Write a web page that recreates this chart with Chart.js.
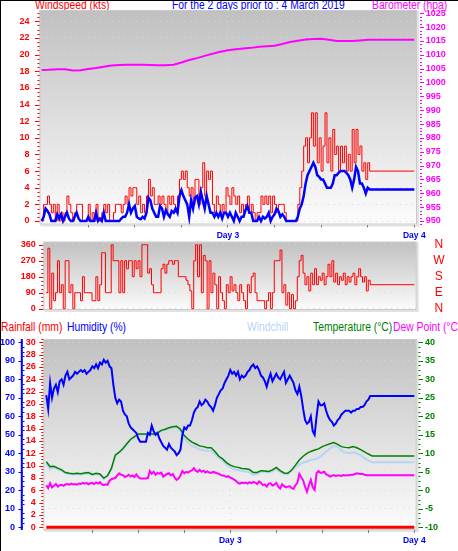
<!DOCTYPE html>
<html><head><meta charset="utf-8">
<script src="https://cdn.jsdelivr.net/npm/chart.js@4.4.0/dist/chart.umd.min.js"></script>
<style>
html,body{margin:0;padding:0;background:#fff;}
body{width:458px;height:551px;position:relative;overflow:hidden;}
#frame{position:absolute;left:0;top:0;width:458px;height:551px;border-left:1px solid #000;border-top:1px solid #000;box-sizing:border-box;pointer-events:none;z-index:5;}
.lbl{position:absolute;font-family:"Liberation Sans",Arial,sans-serif;font-size:12px;line-height:12px;white-space:nowrap;transform:scaleX(0.86);transform-origin:0 0;z-index:0;}
canvas{position:absolute;left:0;z-index:1;}
</style></head>
<body>
<div class="lbl" style="left:35px;top:-1.2px;color:#ff0000">Windspeed (kts)</div>
<div class="lbl" style="left:172px;top:-1.2px;color:#0000ff">For the 2 days prior to : 4 March 2019</div>
<div class="lbl" style="left:372px;top:-1.2px;color:#ff00ff">Barometer (hpa)</div>
<div class="lbl" style="left:1px;top:320.8px;color:#ff0000">Rainfall (mm)</div>
<div class="lbl" style="left:67px;top:320.8px;color:#0000ff">Humidity (%)</div>
<div class="lbl" style="left:247px;top:320.8px;color:#b8d4f4">Windchill</div>
<div class="lbl" style="left:313px;top:320.8px;color:#008000">Temperature (°C)</div>
<div class="lbl" style="left:393px;top:320.8px;color:#ff00ff">Dew Point (°C)</div>
<canvas id="c1" width="458" height="241" style="top:0px"></canvas>
<canvas id="c2" width="458" height="91" style="top:230px"></canvas>
<canvas id="c3" width="458" height="239" style="top:312px"></canvas>
<div id="frame"></div>
<script>
// ---------------- data ----------------
const LAST_HOUR = 48;
const FINE_STEP = 0.25;   // hours between samples
const HALF_STEP = 0.5;
const HOUR_STEP = 1;

const timeTicks = [6, 12, 18, 24, 30, 36, 42, 48];
const dayTickHours = [24, 48];
const dayTickLabels = ['Day 3', 'Day 4'];

const windTicks = [0, 2, 4, 6, 8, 10, 12, 14, 16, 18, 20, 22, 24];
const baroTicks = [950, 955, 960, 965, 970, 975, 980, 985, 990, 995, 1000, 1005, 1010, 1015, 1020, 1025];
const dirTicks = [0, 90, 180, 270, 360];
const dirLabels = ['N', 'E', 'S', 'W', 'N'];
const humTicks = [0, 10, 20, 30, 40, 50, 60, 70, 80, 90, 100];
const rainTicks = [0, 2, 4, 6, 8, 10, 12, 14, 16, 18, 20, 22, 24, 26, 28, 30];
const tempTicks = [-10, -5, 0, 5, 10, 15, 20, 25, 30, 35, 40];

const windGust = [
0,2,2,3, 2,1,2,0, 2,0,1,0, 1,3,2,1, 0,1,2,2, 2,0,0,0, 2,0,1,0, 2,0,0,1, 2,1,2,0, 0,1,2,2,
2,1,2,3, 2,4,3,4, 4,2,3,1, 2,1,3,5, 3,4,2,2, 3,2,3,2, 1,3,2,3, 2,1,3,5, 6,5,6,4, 3,4,2,5,
5,2,4,7, 3,6,5,6, 2,1,3,2, 1,2,1,4, 3,2,4,3, 2,3,1,2, 1,2,3,1, 2,1,0,1, 1,3,2,3, 2,3,1,3,
2,1,2,2, 2,1,0,0, 0,0,0,0, 2,4,6,9, 10,7,10,13, 9,13,7,10, 6,9,13,7, 10,6,11,8, 9,6,9,7, 9,6,8,6,
11,7,11,8, 9,6,7,5, 7,6, 6];

const windAvg = [
0,0.5,1.5,1.2, 0.8,0,0,0, 0.8,0.3,0.8,0, 0.5,1,0.3,0, 0,0.5,1,0.3, 0,0,0,0, 0.5,0,0,0, 1,0,0.3,0, 1,0,0,0, 0,0,0,0,
0,0.3,0.5,0.5, 1,2,1,1.5, 1.8,0.5,0.3,0.2, 0.5,0.3,1,2.8, 2.5,1.5,1,0.5, 0.5,1.8,1.5,0.5, 1.3,0.8,0.5,1.2, 1,1.5,1,3, 3.7,3,2.5,2, 0.5,2.5,1.5,2.8,
3,2,3.5,2.5, 1.5,3,2,1, 1,0.5,1,0.5, 1,0.3,1,1, 0.5,1,0.5,0, 1,0.5,0,0.5, 0.5,1.3,1.8,1, 1,0,0,0, 0.5,0,0.5,0.3, 0.5,1,0,0.5,
0.8,1.5,1.2,0.5, 0.8,0.5,0,0, 0,0,0,0, 0.5,1.5,2,3, 4.5,5.5,6,6.5, 7,6.5,5.5,5.3, 5,5,4.5,4, 4,4,4.5,5.5, 5.5,5.8,6,6, 6,5.8,5.5,5,
4,5,6.5,6, 4.5,4.5,4,3.3, 4,3.8, 3.8];

const barometer = [
1004.5, 1004.6, 1004.8, 1004.8, 1004.3, 1004.4, 1004.9, 1005.2, 1005.7, 1006.1, 1006.3, 1006.4, 1006.4, 1006.4,
1006.3, 1006.2, 1006.2, 1006.4, 1007.2, 1008.1, 1008.8, 1009.6, 1010.4, 1011.1, 1011.6, 1012.0, 1012.3, 1012.5,
1012.9, 1013.1, 1013.3, 1013.9, 1014.6, 1015.1, 1015.5, 1015.7, 1015.8, 1015.4, 1015.0, 1015.0, 1015.0, 1015.2,
1015.4, 1015.4];

const windDir = [
90,340,0,200, 45,90,270,90, 135,0,270,270, 90,135,0,90, 90,90,45,180, 90,90,90,90, 45,45,180,45, 135,315,315,90, 90,90,360,270, 270,270,90,270,
90,270,225,270, 270,180,270,225, 270,180,360,360, 360,200,225,135, 90,90,90,90, 225,250,200,250, 270,270,250,270, 270,180,180,180, 180,160,135,100, 0,270,360,180,
360,90,300,270, 0,270,90,200, 135,0,180,90, 45,0,135,90, 180,100,135,90, 45,135,90,45, 0,135,90,180, 200,90,45,45, 45,45,0,45, 90,0,90,270,
270,270,330,90, 135,20,90,0, 80,0,45,180, 270,300,200,135, 180,100,200,135, 225,135,180,160, 200,135,180,250, 180,270,150,200, 135,180,160,200, 135,180,150,180,
200,135,180,225, 180,150,180,100, 160,135, 135];

const humidity = [
71.5,64,78,70, 75,77,73,79, 80,77,82,84, 80,81,82,84, 83,84,85,84, 85,83,84,85, 87,86,88,86, 89,88,90.5,89, 90,87,86,77, 70,67,69,68,
63,61,60,56, 54,53,52,51, 48,46.3,46.3,46.3, 46.3,51,50,55, 52,50,51,48, 46,44,43,42, 45,43,42,41, 39,40,42,50, 54,53,55,55, 58,62,64,65,
68,66,67,69, 68,66,65,63, 66,70,72,74, 75,78,80,82, 85,83,84,82, 84,80,82,81, 82,84,85,87, 88,86,87,85, 82,81,79,76, 80,83,79,81,
83,81,80,82, 84,78,80,82, 80,78,74,72, 76,71,64,58, 56,57,60,52, 50,60,68,66, 66,67,63,60, 58,57,55,56, 58,59,61,62, 63,63,63,62,
63,63,64,64, 65,65,66,68, 69,71, 71];

const dewPoint = [
1.4,0.6,1.9,0.8, 1.2,1.7,1.0,1.4, 1.5,1.2,1.6,1.7, 1.5,1.8,1.6,1.7, 1.5,1.8,1.7,2.0, 1.8,2.0,1.6,1.9, 2.0,1.7,2.1,1.8, 2.2,1.6,1.4,1.6, 1.5,2.6,3.0,3.2, 3.3,4.0,4.6,4.2,
4.1,3.6,3.8,4.2, 3.7,4.0,3.6,4.3, 3.6,3.2,3.2,3.2, 3.2,3.3,5.2,4.5, 5.0,4.2,4.7,4.5, 4.8,3.7,4.1,4.4, 4.6,4.0,4.4,3.4, 2.8,3.2,4.0,5.2, 4.6,5.0,4.8,5.2, 5.4,6.0,5.2,5.0,
5.5,5.0,5.3,4.8, 5.1,4.8,4.7,5.0, 4.8,4.6,4.5,4.1, 4.0,3.9,3.6,3.8, 3.4,3.2,2.9,2.5, 2.0,1.8,2.1,1.9, 2.1,1.8,2.2,1.9, 2.3,2.1,1.7,2.4, 2.0,1.4,1.6,1.0, 1.8,1.9,1.3,1.5,
2.0,1.0,0.5,1.6, 1.2,0.8,1.0,1.1, 0.6,0.4,1.4,2.0, 4.4,3.5,2.7,1.0, -0.4,1.4,2.8,0.8, 0.1,4.6,5.2,4.7, 4.8,5.0,4.3,4.1, 3.7,3.9,4.1,3.9, 4.0,4.0,3.9,4.1, 4.0,4.1,4.1,4.2,
4.2,4.4,4.6,4.5, 4.4,4.4,4.2,4.1, 4.1,4.1, 4.1];

const temperature = [
7.7, 6.4, 6.5, 6.0, 5.5, 4.8, 4.6, 4.5, 4.6, 4.5, 4.7, 4.8, 4.3, 4.6, 4.4, 3.3, 4.0, 6.0,
9.5, 10.3, 11.3, 12.6, 13.8, 14.5, 15.2, 15.2, 15.2, 15.2, 15.2, 15.5, 16.2, 16.5, 16.9, 17.2, 17.3, 16.5,
14.8, 13.8, 13.0, 12.5, 12.0, 11.8, 11.5, 11.5, 10.5, 9.2, 8.5, 7.5, 6.8, 6.4, 6.2, 5.9, 5.8, 5.6,
4.8, 4.8, 5.3, 5.2, 5.1, 5.5, 6.2, 5.3, 4.7, 4.6, 5.5, 6.8, 8.2, 9.2, 10.0, 10.5, 10.9, 11.2,
11.8, 12.2, 12.6, 12.9, 12.4, 11.8, 11.6, 11.5, 11.8, 11.5, 11.0, 10.4, 9.8, 9.3, 9.3];

const windchill = [
7.2, 5.8, 6.2, 5.7, 5.3, 4.6, 4.4, 4.3, 4.4, 4.3, 4.5, 4.6, 4.1, 4.3, 4.2, 3.1, 3.8, 5.8,
9.3, 10.1, 11.1, 12.4, 13.6, 14.3, 15.0, 15.0, 15.0, 15.0, 15.0, 15.3, 16.0, 16.3, 16.7, 17.0, 17.1, 16.0,
14.0, 12.9, 12.0, 11.6, 11.0, 10.8, 10.6, 10.6, 9.8, 8.8, 8.0, 7.0, 6.2, 5.7, 5.5, 5.2, 5.1, 4.9,
4.2, 4.4, 5.0, 5.0, 4.8, 5.2, 5.8, 5.0, 4.4, 4.4, 5.3, 6.2, 7.0, 7.5, 7.8, 8.2, 8.4, 8.7,
9.5, 10.5, 11.3, 12.0, 11.8, 10.8, 10.2, 10.0, 10.3, 10.0, 9.5, 8.7, 8.0, 7.6, 7.6];

const rainfall = [0, 0];

// ---------------- helpers ----------------
function series(values, step) {
  return values.map((v, i) => ({ x: i === values.length - 1 ? LAST_HOUR : i * step, y: v }));
}
const FONT = '"Liberation Sans", Arial, sans-serif';
const tickFont = { family: FONT, size: 9, weight: 'bold' };
const DOT = '#dadada';
const plain = v => String(v);
function fixed(size) {
  return function (scale) {
    if (scale.isHorizontal()) scale.height = size; else scale.width = size;
    scale.paddingTop = 0; scale.paddingBottom = 0; scale.paddingLeft = 0; scale.paddingRight = 0;
  };
}
function setTicks(values) {
  return function (scale) { scale.ticks = values.map(v => ({ value: v })); };
}
function dayLabel(v) {
  const i = dayTickHours.indexOf(v);
  return i >= 0 ? dayTickLabels[i] : '';
}
function xAxis(min, max, height, showLabels) {
  return {
    type: 'linear', position: 'bottom', min: min, max: max, display: showLabels,
    afterBuildTicks: setTicks(timeTicks), afterFit: fixed(height),
    ticks: { autoSkip: false, maxRotation: 0, padding: 3, color: '#0000ff', font: { family: FONT, size: 8.5, weight: 'bold' }, callback: dayLabel },
    grid: { color: c => (c.tick && c.tick.value === 24) ? DOT : 'rgba(0,0,0,0)', tickColor: '#808080', tickLength: 3, lineWidth: 1 },
    border: { display: false, dash: [1, 5] }
  };
}
function yAxis(pos, min, max, tickValues, width, color, padding, gridOn, extra) {
  const ax = {
    position: pos, min: min, max: max, afterBuildTicks: setTicks(tickValues), afterFit: fixed(width),
    ticks: { autoSkip: false, color: color, font: tickFont, padding: padding, callback: plain },
    grid: gridOn ? { color: DOT, drawTicks: false } : { drawOnChartArea: false, drawTicks: false },
    border: { display: false, dash: [1, 5] }
  };
  if (extra) {
    if (extra.ticks) Object.assign(ax.ticks, extra.ticks);
    if (extra.weight !== undefined) ax.weight = extra.weight;
  }
  return ax;
}

const decor = {
  id: 'decor',
  beforeDraw(chart) {
    const ctx = chart.ctx, a = chart.chartArea;
    ctx.save();
    const g = ctx.createLinearGradient(0, a.top, 0, a.bottom);
    g.addColorStop(0, '#c0c0c0'); g.addColorStop(1, '#fcfcfc');
    ctx.fillStyle = g;
    ctx.fillRect(a.left, a.top, a.right - a.left, a.bottom - a.top);
    ctx.fillStyle = '#e2e2e2';
    ctx.fillRect(a.right, a.top + 1, 2, a.bottom - a.top + 1);
    ctx.fillRect(a.left + 1, a.bottom, a.right - a.left + 1, 2);
    ctx.strokeStyle = '#cacaca'; ctx.lineWidth = 1;
    ctx.strokeRect(a.left + 0.5, a.top + 0.5, a.right - a.left - 1, a.bottom - a.top - 1);
    ctx.restore();
  },
  afterDraw(chart, args, opts) {
    const ctx = chart.ctx, a = chart.chartArea;
    (opts.marks || []).forEach(m => {
      const s = chart.scales[m.scale];
      ctx.save();
      ctx.strokeStyle = m.color; ctx.fillStyle = m.color; ctx.lineWidth = 1;
      if (m.spine) ctx.fillRect(m.spine[0], a.top, m.spine[1], a.bottom - a.top);
      const r = Math.round(m.major / m.minor);
      const k0 = Math.ceil(s.min / m.minor), k1 = Math.floor(s.max / m.minor);
      for (let k = k0; k <= k1; k++) {
        const y = Math.round(s.getPixelForValue(k * m.minor)) + 0.5;
        const xs = (((k % r) + r) % r === 0) ? m.majorX : m.minorX;
        ctx.beginPath(); ctx.moveTo(xs[0], y); ctx.lineTo(xs[1], y); ctx.stroke();
      }
      ctx.restore();
    });
  }
};

const line = (label, values, step, axis, color, width, extra) => Object.assign({
  label, data: series(values, step), yAxisID: axis, borderColor: color, backgroundColor: color,
  borderWidth: width, pointRadius: 0, tension: 0, fill: false
}, extra || {});

const common = { responsive: false, animation: false, devicePixelRatio: 1, events: [],
  plugins: { legend: { display: false }, tooltip: { enabled: false } } };

// ---------------- panel 1: wind speed + barometer ----------------
new Chart(document.getElementById('c1'), {
  type: 'line',
  data: { datasets: [
    line('Gust', windGust, FINE_STEP, 'yWind', '#ff0000', 1, { stepped: true, order: 3 }),
    line('Average', windAvg, FINE_STEP, 'yWind', '#0000ff', 2.5, { order: 2 }),
    line('Barometer', barometer, HOUR_STEP, 'yBaro', '#ff00ff', 2, { order: 1 })
  ] },
  options: Object.assign({}, common, {
    layout: { padding: { top: 10, left: 0, right: 0, bottom: 0 } },
    plugins: Object.assign({}, common.plugins, { decor: { marks: [
      { scale: 'yWind', major: 2, minor: 0.5, majorX: [35, 39.5], minorX: [37.5, 39.5], color: '#ff0000' },
      { scale: 'yBaro', major: 5, minor: 1.25, majorX: [420, 424], minorX: [420, 422], color: '#ff00ff' }
    ] } }),
    scales: {
      x: xAxis(-0.283, 48.35, 16.5, true),
      yWind: yAxis('left', -0.42, 25.36, windTicks, 39.5, '#ff0000', 10, true),
      yBaro: yAxis('right', 948.74, 1026.17, baroTicks, 41, '#ff00ff', 8.7, false)
    }
  }),
  plugins: [decor]
});

// ---------------- panel 2: wind direction ----------------
new Chart(document.getElementById('c2'), {
  type: 'line',
  data: { datasets: [
    line('Direction', windDir, FINE_STEP, 'yDir', '#ff0000', 1, { stepped: true })
  ] },
  options: Object.assign({}, common, {
    layout: { padding: { top: 11.7, left: 0, right: 0, bottom: 11 } },
    plugins: Object.assign({}, common.plugins, { decor: { marks: [
      { scale: 'yDir', major: 90, minor: 22.5, majorX: [39, 43.3], minorX: [41.3, 43.3], color: '#ff0000' }
    ] } }),
    scales: {
      x: { type: 'linear', min: -0.35, max: 48.31, display: false },
      yDir: yAxis('left', -7.3, 376.9, dirTicks, 43.3, '#ff0000', 7.6, true),
      yCompass: yAxis('right', -7.3, 376.9, dirTicks, 41.3, '#ff0000', 16.5, false, { ticks: {
        font: { family: FONT, size: 12 }, crossAlign: 'center', callback: v => dirLabels[dirTicks.indexOf(v)] } })
    }
  }),
  plugins: [decor]
});

// ---------------- panel 3: humidity, temperatures, rain ----------------
new Chart(document.getElementById('c3'), {
  type: 'line',
  data: { datasets: [
    line('Windchill', windchill, HALF_STEP, 'yTemp', '#b8d4f4', 2, { order: 5 }),
    line('Temperature', temperature, HALF_STEP, 'yTemp', '#008000', 1.5, { order: 4 }),
    line('Dew Point', dewPoint, FINE_STEP, 'yTemp', '#ff00ff', 2, { order: 3 }),
    line('Humidity', humidity, FINE_STEP, 'yHum', '#0000ff', 2, { order: 2 }),
    line('Rainfall', rainfall, FINE_STEP, 'yRain', '#ff0000', 3, { order: 1 })
  ] },
  options: Object.assign({}, common, {
    layout: { padding: { top: 27, left: 0, right: 0, bottom: 0 } },
    plugins: Object.assign({}, common.plugins, { decor: { marks: [
      { scale: 'yHum', major: 10, minor: 2.5, majorX: [18.5, 22.8], minorX: [22.8, 24.5], color: '#0000ff', spine: [20.8, 2] },
      { scale: 'yRain', major: 2, minor: 0.5, majorX: [39.3, 43.3], minorX: [41.3, 43.3], color: '#ff0000' },
      { scale: 'yTemp', major: 5, minor: 1.25, majorX: [418.5, 423], minorX: [418.5, 420.5], color: '#008000' }
    ] } }),
    scales: {
      x: xAxis(-0.39, 48.31, 21, true),
      yHum: yAxis('left', -1.46, 101.78, humTicks, 24, '#0000ff', 9, true, { weight: 1 }),
      yRain: yAxis('left', -0.44, 30.53, rainTicks, 19.3, '#ff0000', 7.6, false, { weight: 0 }),
      yTemp: yAxis('right', -10.73, 40.89, tempTicks, 41.3, '#008000', 8.3, false)
    }
  }),
  plugins: [decor]
});
</script>
</body></html>
